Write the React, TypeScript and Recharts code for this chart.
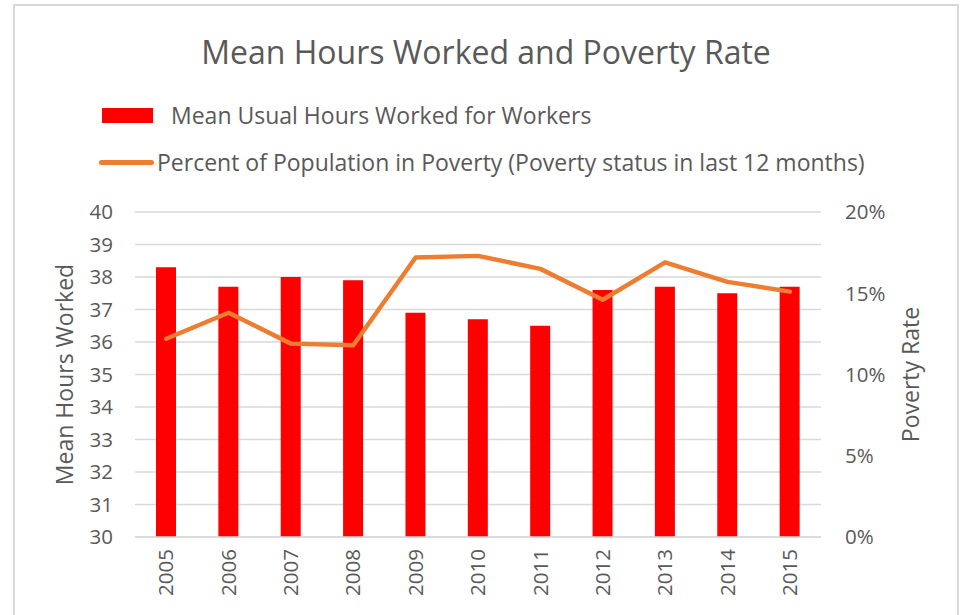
import { Bar, CartesianGrid, ComposedChart, Line, XAxis, YAxis } from "recharts";

const years = ["2005", "2006", "2007", "2008", "2009", "2010", "2011", "2012", "2013", "2014", "2015"];
const meanHours = [38.3, 37.7, 38.0, 37.9, 36.9, 36.7, 36.5, 37.6, 37.7, 37.5, 37.7];
const povertyRate = [12.2, 13.8, 11.9, 11.8, 17.2, 17.3, 16.5, 14.6, 16.9, 15.7, 15.1];
const hourTicks = [30, 31, 32, 33, 34, 35, 36, 37, 38, 39, 40];
const rateTicks = [0, 5, 10, 15, 20];

const data = years.map((year, i) => ({
  year,
  hours: meanHours[i],
  rate: povertyRate[i],
}));

const FONT = "'Open Sans', 'Segoe UI', sans-serif";
const TEXT = "#595959";
const GRID = "#d9d9d9";
const BAR = "#ff0000";
const LINE = "#ed7d31";

function YearTick({ x, y, payload }: any) {
  return (
    <text
      x={x}
      y={y}
      transform={`rotate(-90 ${x} ${y})`}
      textAnchor="end"
      dx={-12}
      dy="0.35em"
      fill={TEXT}
      fontSize={20.5}
      fontFamily={FONT}
    >
      {payload.value}
    </text>
  );
}

function axisTitle(text: string, offsetX: number) {
  return ({ viewBox }: any) => {
    const cx = viewBox.x + offsetX;
    const cy = viewBox.y + viewBox.height / 2;
    return (
      <text
        x={cx}
        y={cy}
        transform={`rotate(-90 ${cx} ${cy})`}
        textAnchor="middle"
        dy="0.35em"
        fill={TEXT}
        fontSize={23}
        fontFamily={FONT}
      >
        {text}
      </text>
    );
  };
}

export default function App() {
  return (
    <div
      style={{
        position: "absolute",
        left: 13,
        top: 4,
        width: 946,
        height: 630,
        border: `2px solid ${GRID}`,
        boxSizing: "border-box",
        background: "#fff",
        fontFamily: FONT,
        color: TEXT,
      }}
    >
      <div
        style={{
          position: "absolute",
          left: 0,
          width: 942,
          top: 24,
          textAlign: "center",
          fontSize: 32,
          lineHeight: "44px",
        }}
      >
        Mean Hours Worked and Poverty Rate
      </div>
      <div style={{ position: "absolute", left: 87, top: 95, fontSize: 23, lineHeight: "28px" }}>
        <div style={{ display: "flex", alignItems: "center", height: 28 }}>
          <span style={{ display: "inline-block", width: 51, height: 15, background: BAR, marginRight: 18 }} />
          Mean Usual Hours Worked for Workers
        </div>
        <div style={{ display: "flex", alignItems: "center", height: 28, marginTop: 19 }}>
          <span
            style={{
              display: "inline-block",
              width: 55,
              height: 5,
              borderRadius: 3,
              background: LINE,
              marginLeft: -3,
              marginRight: 3,
            }}
          />
          Percent of Population in Poverty (Poverty status in last 12 months)
        </div>
      </div>
      <ComposedChart
        width={942}
        height={612}
        data={data}
        margin={{ top: 206, right: 36, bottom: 11, left: 20 }}
      >
        <CartesianGrid yAxisId="hours" vertical={false} stroke={GRID} strokeWidth={1.5} />
        <XAxis
          dataKey="year"
          height={70}
          axisLine={{ stroke: GRID, strokeWidth: 1.5 }}
          tickLine={false}
          tickSize={0}
          tickMargin={0}
          tick={<YearTick />}
          interval={0}
        />
        <YAxis
          yAxisId="hours"
          width={100}
          domain={[30, 40]}
          ticks={hourTicks}
          axisLine={false}
          tickLine={false}
          tickSize={0}
          tickMargin={22}
          tick={{ fill: TEXT, fontSize: 20.5, fontFamily: FONT }}
          label={{ content: axisTitle("Mean Hours Worked", 30) }}
        />
        <YAxis
          yAxisId="rate"
          orientation="right"
          width={100}
          domain={[0, 20]}
          ticks={rateTicks}
          tickFormatter={(v: number) => `${v}%`}
          axisLine={false}
          tickLine={false}
          tickSize={0}
          tickMargin={24}
          tick={{ fill: TEXT, fontSize: 20.5, fontFamily: FONT, textAnchor: "start" }}
          label={{ content: axisTitle("Poverty Rate", 90) }}
        />
        <Bar yAxisId="hours" dataKey="hours" fill={BAR} barSize={20} isAnimationActive={false} />
        <Line
          yAxisId="rate"
          dataKey="rate"
          type="linear"
          stroke={LINE}
          strokeWidth={4.5}
          strokeLinecap="round"
          strokeLinejoin="round"
          dot={false}
          activeDot={false}
          isAnimationActive={false}
        />
      </ComposedChart>
    </div>
  );
}
